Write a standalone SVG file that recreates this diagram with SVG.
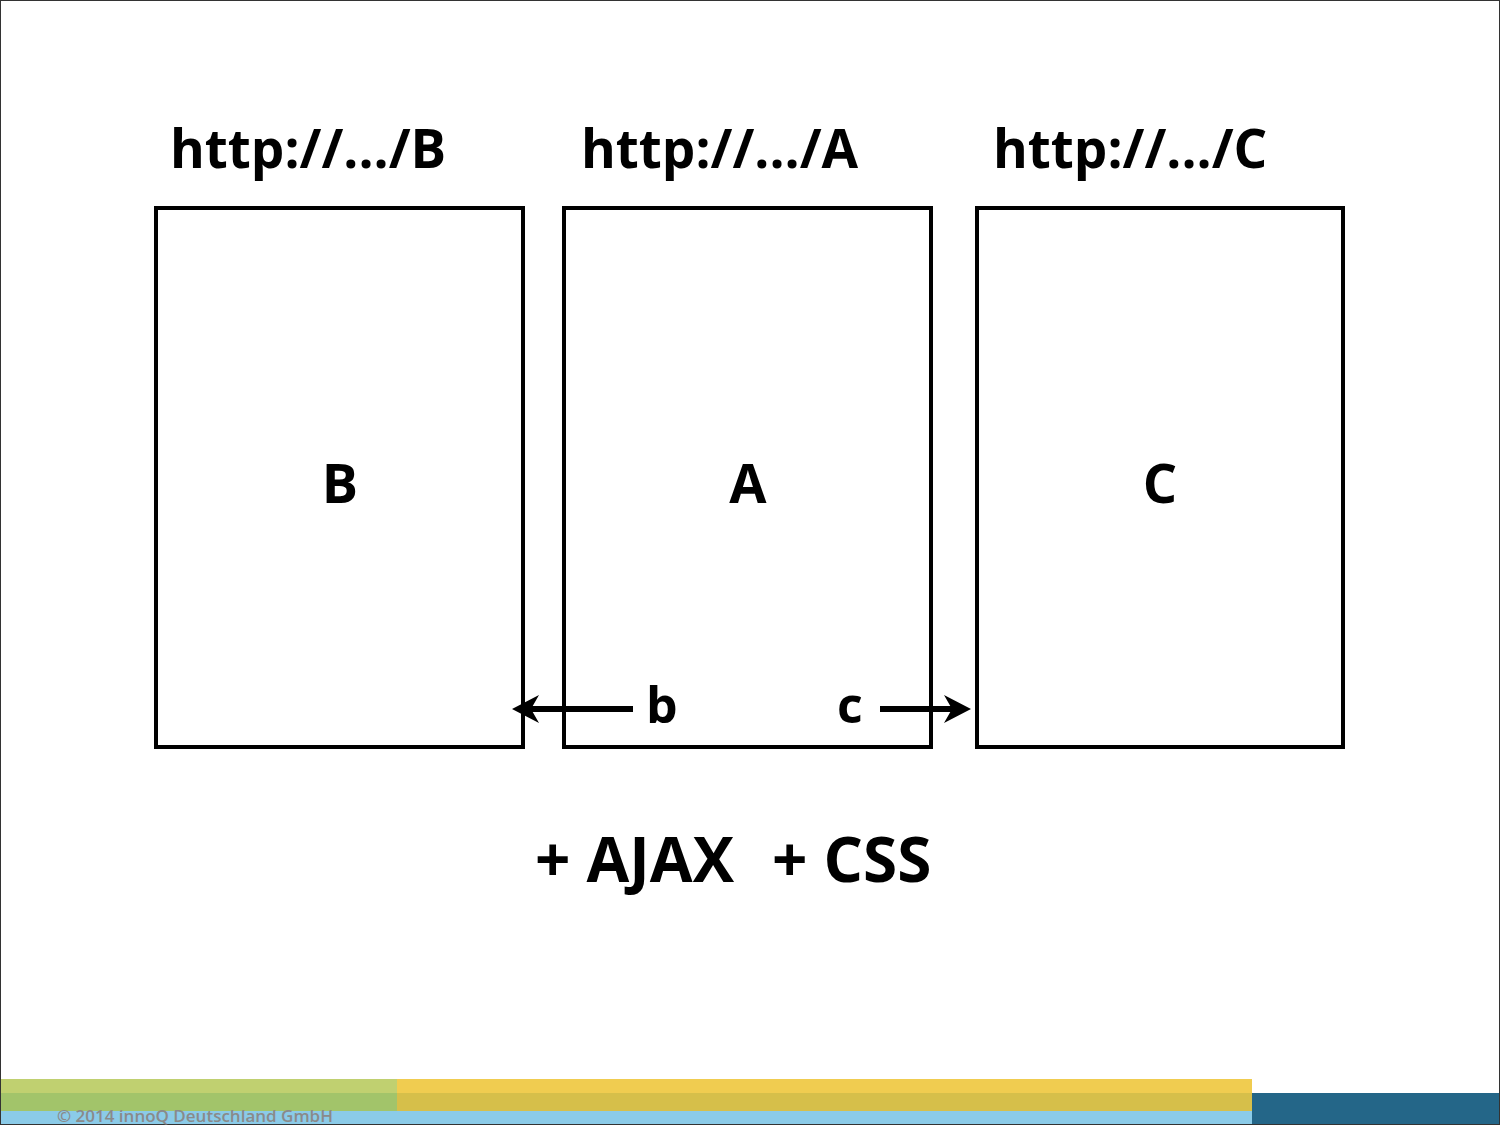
<svg xmlns="http://www.w3.org/2000/svg" width="1500" height="1125" viewBox="0 0 1500 1125">
<style>
.box{fill:#fff;stroke:#000;stroke-width:4}
.t{font-family:"Open Sans","Noto Sans",sans-serif;font-weight:700;fill:#000}
.url{font-size:53px}
.lbl{font-size:54px;text-anchor:middle}
.small{font-size:50px}
.big{font-size:62px}
.conn{stroke:#000;stroke-width:6;fill:none}
.head{fill:#000;stroke:none}
</style>
<defs>
<path id="ah" class="head" d="M0,0 L-27,-14 L-19,0 L-27,14 Z"/>
</defs>
<rect x="0" y="0" width="1500" height="1125" fill="#fff"/>
<rect x="0.5" y="0.5" width="1499" height="1124" fill="none" stroke="#333" stroke-width="1"/>
<g id="bands">
<rect x="1" y="1079" width="396" height="14" fill="#C0D070"/>
<rect x="1" y="1093" width="396" height="18" fill="#A2C46A"/>
<rect x="397" y="1079" width="855" height="14" fill="#F0CC50"/>
<rect x="397" y="1093" width="855" height="18" fill="#D6BF4A"/>
<rect x="1" y="1111" width="1251" height="13" fill="#8BCBE8"/>
<rect x="1252" y="1093" width="247" height="31" fill="#246688"/>
<text x="57" y="1122" font-family="'Open Sans','Noto Sans',sans-serif" font-weight="600" font-size="17" fill="#8A8A8A">© 2014 innoQ Deutschland GmbH</text>
</g>
<g id="nodeB">
<text class="t url" x="170" y="168">http://.../B</text>
<rect class="box" x="156" y="208" width="367" height="539"/>
<text class="t lbl" x="340" y="503">B</text>
</g>
<g id="nodeA">
<text class="t url" x="581" y="168">http://.../A</text>
<rect class="box" x="564" y="208" width="367" height="539"/>
<text class="t lbl" x="748" y="503">A</text>
</g>
<g id="nodeC">
<text class="t url" x="993" y="168">http://.../C</text>
<rect class="box" x="977" y="208" width="366" height="539"/>
<text class="t lbl" x="1160" y="503">C</text>
</g>
<g id="connectors">
<line class="conn" x1="633" y1="709" x2="525" y2="709"/>
<use href="#ah" transform="translate(512,709) rotate(180)"/>
<line class="conn" x1="880" y1="709" x2="958" y2="709"/>
<use href="#ah" transform="translate(971,709)"/>
</g>
<g id="labels">
<text class="t small" x="646" y="723">b</text>
<text class="t small" x="837" y="723">c</text>
<text class="t big" x="535" y="882">+ AJAX</text>
<text class="t big" x="772" y="882">+ CSS</text>
</g>
</svg>
